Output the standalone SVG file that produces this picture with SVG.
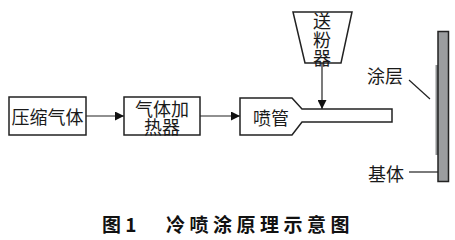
<svg xmlns="http://www.w3.org/2000/svg" width="455" height="240" viewBox="0 0 455 240">
<style>
.box{fill:#fff;stroke:#222;stroke-width:1.5}
.ln{fill:none;stroke:#222;stroke-width:1.2}
.t{font-family:"Noto Sans CJK SC","Noto Sans",sans-serif;font-size:18px;fill:#1a1a1a;text-anchor:middle;dominant-baseline:central}
.cap{font-family:"Noto Sans CJK SC","Noto Sans",sans-serif;font-size:19px;font-weight:bold;fill:#111;dominant-baseline:central}
</style>
<defs>
<marker id="ah" viewBox="0 0 10 10" refX="10" refY="5" markerWidth="9" markerHeight="9" markerUnits="userSpaceOnUse" orient="auto">
<path d="M0,0 L10,5 L0,10 Z" fill="#111"/>
</marker>
</defs>
<g id="connectors">
<line class="ln" x1="86" y1="116" x2="124" y2="116" marker-end="url(#ah)"/>
<line class="ln" x1="200" y1="116" x2="240" y2="116" marker-end="url(#ah)"/>
<line class="ln" x1="322" y1="63" x2="322" y2="109" marker-end="url(#ah)"/>
<line class="ln" x1="409" y1="80" x2="430" y2="99"/>
<line class="ln" x1="409" y1="172" x2="438" y2="172"/>
</g>
<g id="compressed-gas">
<rect class="box" x="9" y="97" width="77" height="38"/>
<text class="t" x="47.5" y="116">压缩气体</text>
</g>
<g id="gas-heater">
<rect class="box" x="124" y="97" width="76" height="38"/>
<text class="t" x="162" y="107.5">气体加</text>
<text class="t" x="162" y="125.5">热器</text>
</g>
<g id="nozzle">
<polygon class="box" points="240,98 292,98 302,109 392,109 392,122 302,122 292,135 240,135"/>
<text class="t" x="271" y="117">喷管</text>
</g>
<g id="powder-feeder">
<polygon class="box" points="293,12 352,12 341,63 305,63"/>
<text class="t" x="322" y="20">送</text>
<text class="t" x="322" y="39">粉</text>
<text class="t" x="322" y="57">器</text>
</g>
<g id="coating">
<rect x="435.5" y="65" width="3" height="90" fill="#8e9092"/>
<text class="t" x="385" y="75">涂层</text>
</g>
<g id="substrate">
<rect x="438" y="31.5" width="10.5" height="150" fill="#9b9d9f" stroke="#222" stroke-width="1.5"/>
<text class="t" x="386" y="173">基体</text>
</g>
<g id="caption">
<text class="cap" x="102" y="223">图 1</text>
<text class="cap" x="166" y="223" letter-spacing="4.5">冷喷涂原理示意图</text>
</g>
</svg>
